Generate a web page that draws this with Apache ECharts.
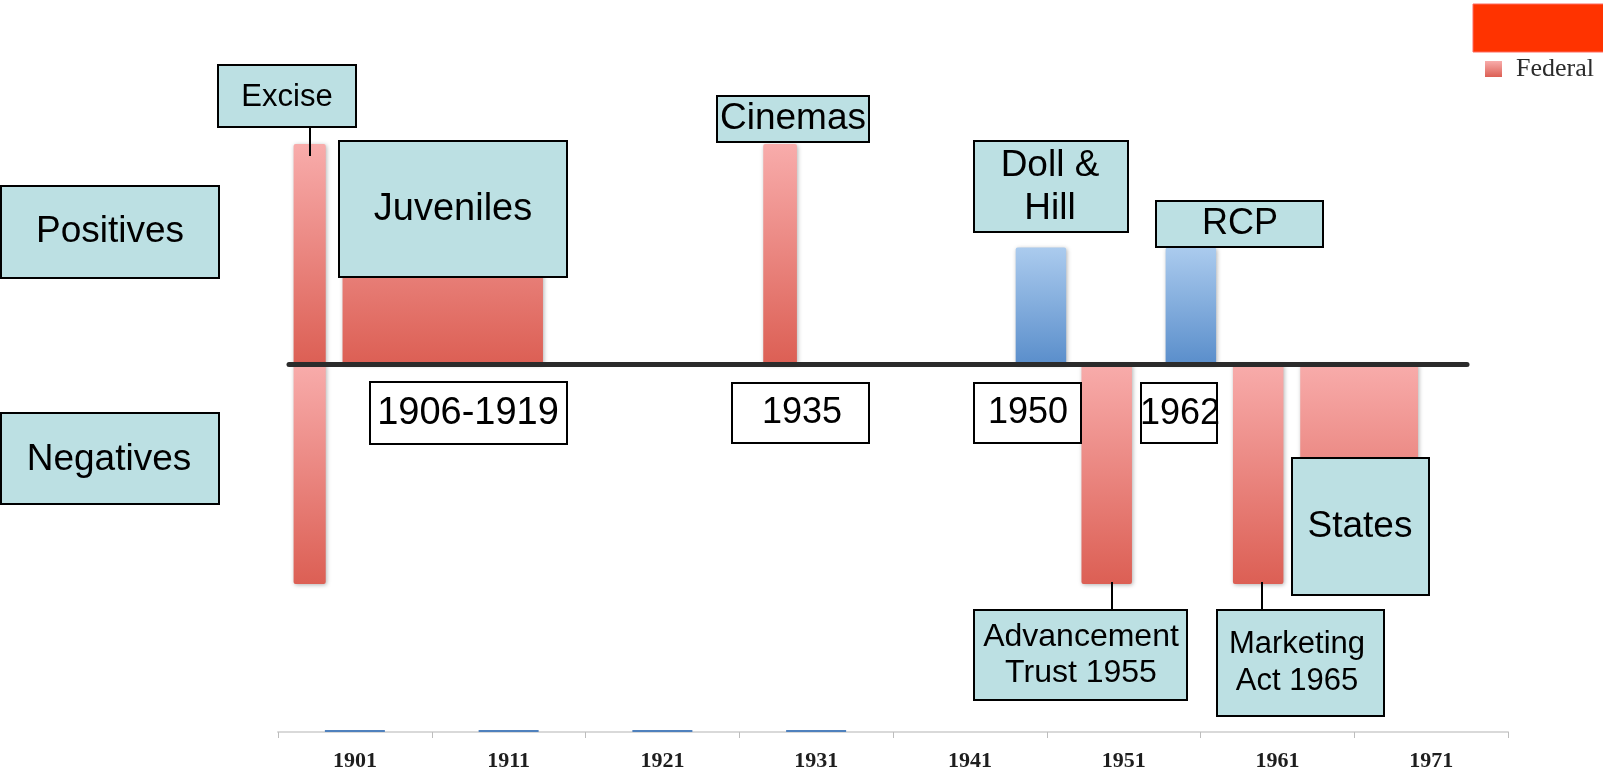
<!DOCTYPE html>
<html>
<head>
<meta charset="utf-8">
<title>Federal timeline</title>
<script src="https://cdn.jsdelivr.net/npm/echarts@6/dist/echarts.min.js"></script>
<style>
  html, body { margin: 0; padding: 0; background: #fff; }
  #main { width: 1603px; height: 773px; }
</style>
</head>
<body>
<div id="main"></div>
<script>
// bars on the timeline: from / to along the line, +1 = full positive, -1 = full negative
var federalFrom  = [1898.3, 1898.3, 1901.5, 1929.0, 1949.8, 1959.7, 1964.1];
var federalTo    = [1900.4, 1900.4, 1914.6, 1931.2, 1953.1, 1963.0, 1971.8];
var federalValue = [1, -1, 1, 1, -1, -1, -1];

var stateFrom  = [1945.5, 1955.3];
var stateTo    = [1948.8, 1958.6];
var stateValue = [0.53, 0.53];

// the small axis at the bottom
var decades = ['1901', '1911', '1921', '1931', '1941', '1951', '1961', '1971'];
var decadeValues = [2, 2, 2, 2, 0, 0, 0, 0];

var chart = echarts.init(document.getElementById('main'));

function grad(light, dark) {
  return new echarts.graphic.LinearGradient(0, 0, 0, 1, [
    { offset: 0, color: light },
    { offset: 1, color: dark }
  ]);
}
var redFill = grad('#f8acab', '#dc5f54');
var blueFill = grad('#abcbee', '#5a8ecb');

function barRender(fill) {
  return function (params, api) {
    var p0 = api.coord([api.value(0), 0]);
    var p1 = api.coord([api.value(1), api.value(2)]);
    return {
      type: 'rect',
      shape: {
        x: p0[0],
        y: Math.min(p0[1], p1[1]),
        width: p1[0] - p0[0],
        height: Math.abs(p1[1] - p0[1]),
        r: 2
      },
      style: {
        fill: fill,
        shadowBlur: 4,
        shadowColor: 'rgba(0,0,0,0.3)',
        shadowOffsetX: 1,
        shadowOffsetY: 1
      }
    };
  };
}

var TEAL = '#bce0e3';
var FONT = '"Liberation Sans", Arial, sans-serif';

function callout(x, y, w, h, fill, text, size, cx, cy, lh) {
  return [
    {
      type: 'rect', z: 10,
      shape: { x: x, y: y, width: w, height: h },
      style: { fill: fill, stroke: '#000', lineWidth: 2 }
    },
    {
      type: 'text', z: 11, x: cx, y: cy,
      style: {
        text: text, fill: '#000', fontSize: size, fontFamily: FONT,
        align: 'center', verticalAlign: 'middle', lineHeight: lh || size
      }
    }
  ];
}

function connector(x, y1, y2) {
  return {
    type: 'line', z: 12,
    shape: { x1: x, y1: y1, x2: x, y2: y2 },
    style: { stroke: '#000', lineWidth: 2 }
  };
}

var graphics = [].concat(
  callout(218, 65, 138, 62, TEAL, 'Excise', 31, 287, 97),
  callout(1, 186, 218, 92, TEAL, 'Positives', 37, 110, 232),
  callout(1, 413, 218, 91, TEAL, 'Negatives', 37, 109, 460),
  callout(339, 141, 228, 136, TEAL, 'Juveniles', 38, 453, 210),
  callout(370, 382, 197, 62, '#fff', '1906-1919', 38, 468, 414),
  callout(717, 96, 152, 46, TEAL, 'Cinemas', 37, 793, 119),
  callout(732, 383, 137, 60, '#fff', '1935', 36, 802, 413),
  callout(974, 141, 154, 91, TEAL, 'Doll &\nHill', 37, 1050, 187, 43),
  callout(974, 383, 107, 60, '#fff', '1950', 36, 1028, 413),
  callout(1156, 201, 167, 46, TEAL, 'RCP', 36, 1240, 224),
  callout(1141, 383, 76, 60, '#fff', '1962', 36, 1180, 414),
  callout(1292, 458, 137, 137, TEAL, 'States', 37, 1360, 527),
  callout(974, 610, 213, 90, TEAL, 'Advancement\nTrust 1955', 32, 1081, 655, 36),
  callout(1217, 610, 167, 106, TEAL, 'Marketing\nAct 1965', 31, 1297, 663, 37),
  [
    connector(310, 127, 156),
    connector(1112, 582, 610),
    connector(1262, 582, 610),
    {
      type: 'rect', z: 10,
      shape: { x: 1473, y: 4, width: 131, height: 48 },
      style: { fill: '#ff3300', stroke: '#ff6b5e', lineWidth: 1 }
    }
  ]
);

var option = {
  backgroundColor: '#fff',
  animation: false,
  legend: {
    data: ['Federal'],
    left: 1485,
    top: 56,
    padding: 0,
    icon: 'rect',
    itemWidth: 17,
    itemHeight: 16,
    textStyle: {
      fontFamily: '"Liberation Serif", serif',
      fontSize: 26,
      color: '#2b2b2b',
      padding: [0, 0, 0, 9]
    }
  },
  grid: [
    { left: 289, right: 136, top: 144, bottom: 189 },
    { left: 278, right: 95, top: 632, bottom: 41 }
  ],
  xAxis: [
    {
      type: 'value', gridIndex: 0, min: 1898, max: 1975, z: 5,
      axisLine: { show: true, onZero: true, lineStyle: { color: '#2b2b2b', width: 5 } },
      axisTick: { show: false },
      axisLabel: { show: false },
      splitLine: { show: false }
    },
    {
      type: 'category', gridIndex: 1, data: decades,
      axisLine: { lineStyle: { color: '#d9d9d9', width: 2 } },
      axisTick: { show: true, length: 6, lineStyle: { color: '#bdbdbd' } },
      axisLabel: {
        color: '#1e1e1e', fontFamily: '"Liberation Serif", serif', fontSize: 22,
        fontWeight: 'bold', verticalAlign: 'middle', margin: 29
      }
    }
  ],
  yAxis: [
    { type: 'value', gridIndex: 0, min: -1, max: 1, show: false },
    { type: 'value', gridIndex: 1, min: 0, max: 100, show: false }
  ],
  series: [
    {
      name: 'Federal',
      type: 'custom',
      xAxisIndex: 0, yAxisIndex: 0,
      itemStyle: { color: redFill },
      renderItem: barRender(redFill),
      encode: { x: [0, 1], y: 2 },
      data: federalFrom.map(function (v, i) { return [v, federalTo[i], federalValue[i]]; })
    },
    {
      name: 'State',
      type: 'custom',
      xAxisIndex: 0, yAxisIndex: 0,
      itemStyle: { color: blueFill },
      renderItem: barRender(blueFill),
      encode: { x: [0, 1], y: 2 },
      data: stateFrom.map(function (v, i) { return [v, stateTo[i], stateValue[i]]; })
    },
    {
      name: 'Decades',
      type: 'bar',
      xAxisIndex: 1, yAxisIndex: 1,
      barWidth: 60,
      itemStyle: { color: '#4f81bd' },
      data: decadeValues
    }
  ],
  graphic: graphics
};

chart.setOption(option);
window.onresize = chart.resize;
</script>
</body>
</html>
